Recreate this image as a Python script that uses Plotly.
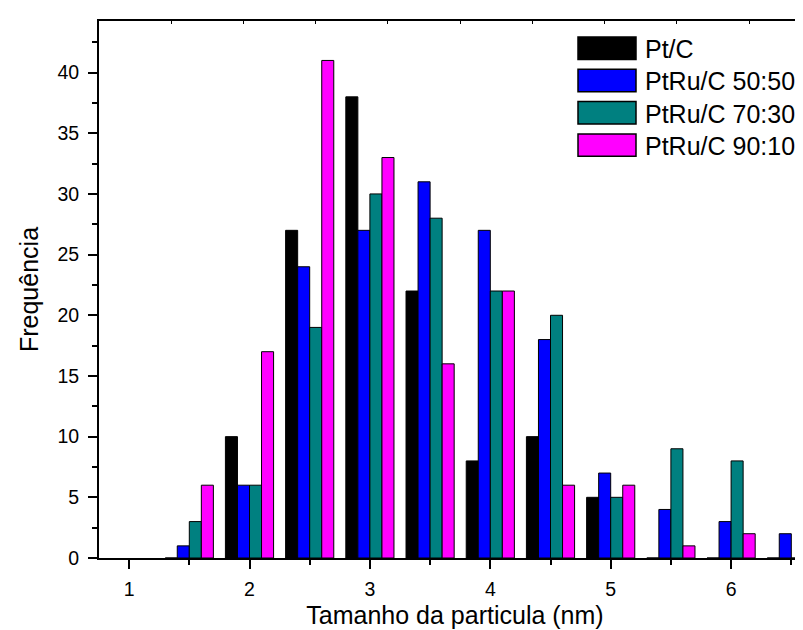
import plotly.graph_objects as go

# ---- data ----
bins = [1.5, 2.0, 2.5, 3.0, 3.5, 4.0, 4.5, 5.0, 5.5, 6.0, 6.5]
series_names = ["Pt/C", "PtRu/C 50:50", "PtRu/C 70:30", "PtRu/C 90:10"]
pt_c      = [0, 10, 27, 38, 22, 8, 10, 5, 0, 0, 0]
ptru_5050 = [1, 6, 24, 27, 31, 27, 18, 7, 4, 3, 2]
ptru_7030 = [3, 6, 19, 30, 28, 22, 20, 5, 9, 8, 0]
ptru_9010 = [6, 17, 41, 33, 16, 22, 6, 6, 1, 2, 0]
x_ticks = [1, 2, 3, 4, 5, 6]
y_ticks = [0, 5, 10, 15, 20, 25, 30, 35, 40]

series_values = [pt_c, ptru_5050, ptru_7030, ptru_9010]
colors = ["#000000", "#0000FF", "#008080", "#FF00FF"]

FONT = "Liberation Sans, Arial, sans-serif"
W, H = 803, 630
ML, MR, MT, MB = 91, 0, 13, 80
TICKFONT = dict(family=FONT, size=19.5, color="#000000")
TITLEFONT = dict(family=FONT, size=25, color="#000000")

fig = go.Figure()
for name, vals, col in zip(series_names, series_values, colors):
    fig.add_trace(go.Bar(
        x=bins, y=vals, name=name,
        marker=dict(color=col, line=dict(color="#000000", width=1)),
        showlegend=False,
    ))

# invisible trace so the mirrored top axis is drawn
fig.add_trace(go.Scatter(x=[None], y=[None], xaxis="x2", showlegend=False))

px_per_unit = 120.4
x0 = 0.75
x1 = x0 + (W - ML - MR) / px_per_unit

fig.update_layout(
    width=W, height=H,
    margin=dict(l=ML, r=MR, t=MT, b=MB, pad=0),
    paper_bgcolor="white", plot_bgcolor="white",
    barmode="group", bargap=0.2, bargroupgap=0,
    font=dict(family=FONT, color="#000000", size=19.5),
    xaxis=dict(
        range=[x0, x1], tickmode="array", tickvals=x_ticks,
        ticktext=[str(v) for v in x_ticks],
        ticks="outside", ticklen=9, tickwidth=2, tickcolor="#000",
        minor=dict(dtick=0.5, tick0=0, ticks="outside", ticklen=5, tickwidth=2, tickcolor="#000"),
        showline=True, linewidth=2, linecolor="#000", layer="above traces",
        showgrid=False, zeroline=False, automargin=False,
        tickfont=TICKFONT, ticklabelstandoff=4,
        title=dict(text="Tamanho da particula (nm)", font=TITLEFONT, standoff=7),
    ),
    xaxis2=dict(
        overlaying="x", side="top", range=[x0, x1],
        tickvals=[1.35, 1.95, 2.55, 3.15, 3.75, 4.35, 4.95, 5.55, 6.15],
        showticklabels=False, ticks="inside", ticklen=3, tickwidth=1, tickcolor="#000",
        showline=True, linewidth=2, linecolor="#000",
        showgrid=False, zeroline=False,
    ),
    yaxis=dict(
        range=[0, 44.25], tickmode="array", tickvals=y_ticks,
        ticktext=[str(v) for v in y_ticks],
        ticks="outside", ticklen=9, tickwidth=2, tickcolor="#000",
        minor=dict(dtick=2.5, tick0=0, ticks="outside", ticklen=5, tickwidth=2, tickcolor="#000"),
        showline=True, linewidth=2, linecolor="#000", layer="above traces",
        showgrid=False, zeroline=False, automargin=False,
        tickfont=TICKFONT, ticklabelstandoff=5,
        title=dict(text="Frequência", font=TITLEFONT, standoff=12),
    ),
)

# manual legend with large swatches
pw, ph = W - ML - MR, H - MT - MB
def px_x(p):
    return (p - ML) / pw
def px_y(p):
    return (H - MB - p) / ph

row_centers = [40.2, 72.5, 104.8, 137.1]
for name, col, cy in zip(series_names, colors, row_centers):
    fig.add_shape(type="rect", xref="paper", yref="paper",
                  x0=px_x(570), x1=px_x(628), y0=px_y(cy + 11.2), y1=px_y(cy - 11.2),
                  fillcolor=col, line=dict(color="#000", width=1.5))
    fig.add_annotation(xref="paper", yref="paper", x=px_x(635), y=px_y(cy + 0.8),
                       text=name, showarrow=False, xanchor="left", yanchor="middle",
                       font=dict(size=25, family=FONT, color="#000"))

fig.write_html("out.html")
